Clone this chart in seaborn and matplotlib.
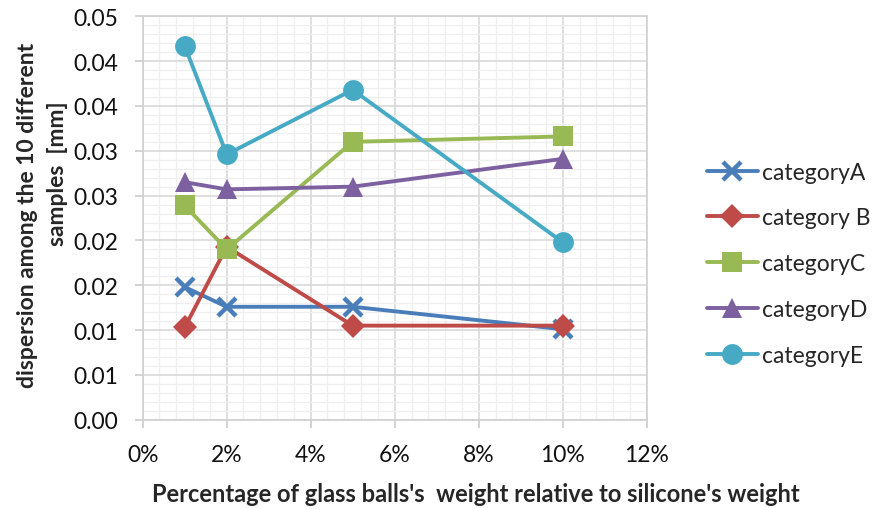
import matplotlib
matplotlib.use("Agg")
import matplotlib.pyplot as plt
import seaborn as sns
import pandas as pd
from matplotlib.ticker import MultipleLocator

# ---- data ----
percent = [1, 2, 5, 10]
category_a = [0.0148, 0.0126, 0.0126, 0.0101]
category_b = [0.0103, 0.0193, 0.0105, 0.0105]
category_c = [0.0239, 0.0190, 0.0310, 0.0316]
category_d = [0.0265, 0.0257, 0.0260, 0.0291]
category_e = [0.0417, 0.0296, 0.0368, 0.0198]
series_names = ["categoryA", "category B", "categoryC", "categoryD", "categoryE"]
x_ticks = [0, 2, 4, 6, 8, 10, 12]
x_tick_labels = ["0%", "2%", "4%", "6%", "8%", "10%", "12%"]
y_ticks = [0.0, 0.005, 0.010, 0.015, 0.020, 0.025, 0.030, 0.035, 0.040, 0.045]
y_tick_labels = ["0.00", "0.01", "0.01", "0.02", "0.02", "0.03", "0.03", "0.04", "0.04", "0.05"]
x_label = "Percentage of glass balls's  weight relative to silicone's weight"
y_label_1 = "dispersion among the 10 different"
y_label_2 = "samples  [mm]"

values = [category_a, category_b, category_c, category_d, category_e]
colors = ["#4A7EBB", "#BE4B48", "#98B954", "#7D60A0", "#46AAC5"]
markers = ["x", "D", "s", "^", "o"]
msizes = [13, 12, 14, 14.5, 15]

sns.set_theme(style="white")
plt.rcParams['font.family'] = ['Lato', 'DejaVu Sans']

fig = plt.figure(figsize=(8.83, 5.10), dpi=100)
ax = fig.add_axes([0.1616, 0.175, 0.5708, 0.791])

for name, vals, c, m, ms in zip(series_names, values, colors, markers, msizes):
    df = pd.DataFrame({"x": percent, "y": vals})
    kw = dict(markeredgewidth=3.2) if m == "x" else dict(markeredgewidth=0)
    sns.lineplot(data=df, x="x", y="y", ax=ax, color=c, marker=m,
                 markersize=ms, linewidth=2.8, label=name, zorder=3,
                 markeredgecolor=c, **kw)

ax.set_xlim(0, 12)
ax.set_ylim(0, 0.045)
ax.set_xticks(x_ticks)
ax.set_xticklabels(x_tick_labels)
ax.set_yticks(y_ticks)
ax.set_yticklabels(y_tick_labels)
ax.xaxis.set_minor_locator(MultipleLocator(0.4))
ax.yaxis.set_minor_locator(MultipleLocator(0.001))

ax.grid(True, which="major", color="#D9D9D9", linewidth=1.2, zorder=0)
ax.grid(True, which="minor", color="#EFEFEF", linewidth=0.9, zorder=0)
ax.set_axisbelow(True)
for s in ax.spines.values():
    s.set_color("#D0D0D0")
    s.set_linewidth(1.2)

ax.tick_params(axis="both", which="major", labelsize=16.5, colors="#111111",
               length=5.5, width=1.1, color="#C8C8C8", direction="out", pad=12)
ax.tick_params(axis="both", which="minor", length=0)
ax.tick_params(axis="x", bottom=True)
ax.tick_params(axis="y", left=True)

ax.set_xlabel(x_label, fontsize=17, fontweight="bold", va="center")
ax.xaxis.set_label_coords(0.661, -0.184)
ax.set_ylabel(y_label_1, fontsize=16.5, fontweight="bold", va="center")
ax.yaxis.set_label_coords(-0.228, 0.51)
ax.text(-0.17, 0.612, y_label_2, transform=ax.transAxes, rotation=90,
        fontsize=16.5, fontweight="bold", ha="center", va="center")

leg = ax.legend(loc="center left", bbox_to_anchor=(1.119, 0.387), frameon=False,
                fontsize=16.5, handlelength=2.25, labelspacing=1.08,
                handletextpad=0.15, borderaxespad=0, borderpad=0)

fig.savefig("out.png", dpi=100)
